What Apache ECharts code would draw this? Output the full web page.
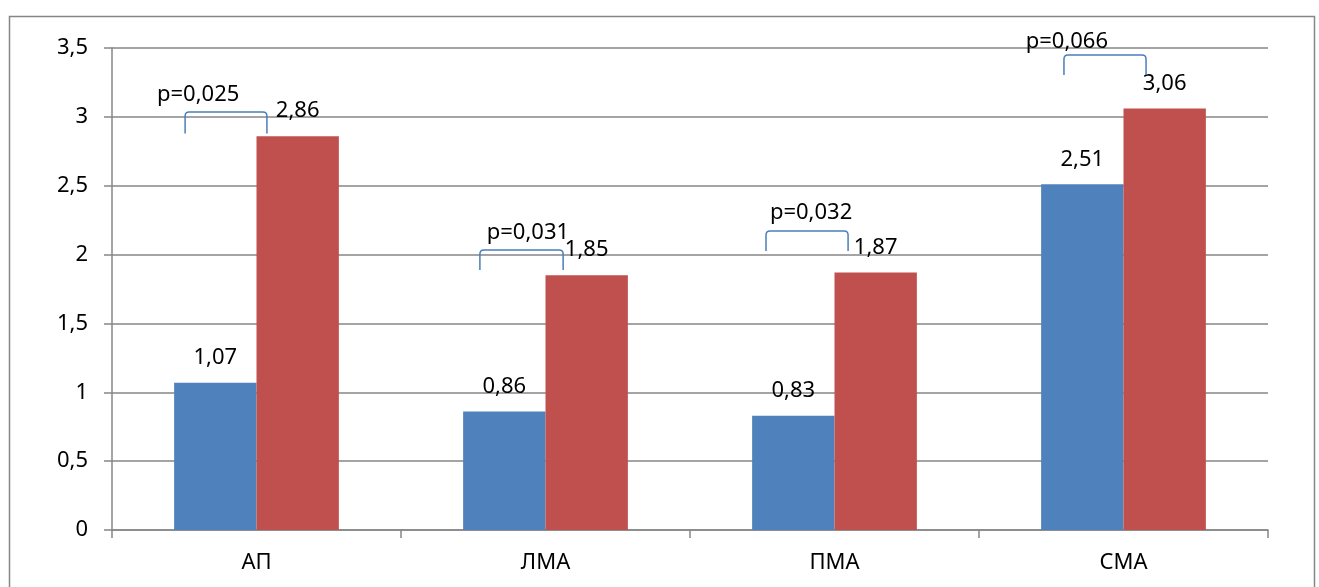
<!DOCTYPE html>
<html>
<head>
<meta charset="utf-8">
<script src="https://cdn.jsdelivr.net/npm/echarts@6/dist/echarts.min.js"></script>
<style>
html,body{margin:0;padding:0;background:#fff;}
#chart{width:1319px;height:587px;}
</style>
</head>
<body>
<div id="chart"></div>
<script>
const categories = ['АП', 'ЛМА', 'ПМА', 'СМА'];
const seriesA = [1.07, 0.86, 0.83, 2.51];
const seriesB = [2.86, 1.85, 1.87, 3.06];
const yTicks = [0, 0.5, 1, 1.5, 2, 2.5, 3, 3.5];
const pLabels = ['p=0,025', 'p=0,031', 'p=0,032', 'p=0,066'];
const bracketTop = [3.035, 2.033, 2.171, 3.449];
const bracketBottom = [2.88, 1.888, 2.026, 3.304];

const FONT = 'Noto Sans';
const GRID_COLOR = '#868686';
const fmt = v => String(v).replace('.', ',');

// annotation layout (fractions of category band relative to its centre)
const bracketLeft = [-0.247, -0.227, -0.237, -0.206];
const bracketRight = [0.036, 0.061, 0.047, 0.078];
const textX = [-0.202, -0.061, -0.081, -0.196];
const textDy = [-17, -17, -18, -13];

const chart = echarts.init(document.getElementById('chart'), null, {renderer: 'canvas'});

const bracketData = categories.map((c, i) => [i, bracketTop[i], bracketBottom[i]]);

chart.setOption({
  animation: false,
  backgroundColor: '#fff',
  textStyle: {fontFamily: FONT},
  graphic: [{
    type: 'rect',
    left: 7, top: 14,
    shape: {x: 0, y: 0, width: 1305, height: 620},
    style: {fill: 'none', stroke: GRID_COLOR, lineWidth: 1.5},
    silent: true, z: -10
  }],
  grid: {left: 112, right: 51, top: 48, bottom: 57, containLabel: false},
  xAxis: {
    type: 'category',
    data: categories,
    axisLine: {show: true, lineStyle: {color: GRID_COLOR, width: 1.5}},
    axisTick: {show: true, length: 8, alignWithLabel: false, lineStyle: {color: GRID_COLOR, width: 1.5}},
    axisLabel: {color: '#000', fontSize: 22, fontFamily: FONT, margin: 22},
    splitLine: {show: false}
  },
  yAxis: {
    type: 'value',
    min: yTicks[0],
    max: yTicks[yTicks.length - 1],
    interval: 0.5,
    axisLine: {show: true, lineStyle: {color: GRID_COLOR, width: 1.5}},
    axisTick: {show: true, length: 8, lineStyle: {color: GRID_COLOR, width: 1.5}},
    axisLabel: {color: '#000', fontSize: 22, fontFamily: FONT, margin: 24, formatter: v => fmt(v)},
    splitLine: {show: true, lineStyle: {color: GRID_COLOR, width: 1.5}}
  },
  series: [
    {
      type: 'bar',
      data: seriesA,
      barGap: '0%',
      barCategoryGap: '43%',
      itemStyle: {color: '#4F81BD'},
      label: {show: true, position: 'top', distance: 14, color: '#000', fontSize: 22, fontFamily: FONT, formatter: p => fmt(p.value)}
    },
    {
      type: 'bar',
      data: seriesB,
      barGap: '0%',
      barCategoryGap: '43%',
      itemStyle: {color: '#C0504D'},
      label: {show: true, position: 'top', distance: 14, color: '#000', fontSize: 22, fontFamily: FONT, formatter: p => fmt(p.value)}
    },
    {
      type: 'custom',
      data: bracketData,
      silent: true,
      z: 10,
      renderItem: function (params, api) {
        const i = api.value(0);
        const top = api.coord([i, api.value(1)]);
        const bot = api.coord([i, api.value(2)]);
        const band = api.size([1, 0])[0];
        const cx = top[0];
        const xl = cx + bracketLeft[i] * band;
        const xr = cx + bracketRight[i] * band;
        const yt = top[1], yb = bot[1];
        const r = 4;
        const path = `M${xl} ${yb} L${xl} ${yt + r} Q${xl} ${yt} ${xl + r} ${yt} L${xr - r} ${yt} Q${xr} ${yt} ${xr} ${yt + r} L${xr} ${yb}`;
        return {
          type: 'group',
          children: [
            {type: 'path', shape: {pathData: path}, style: {fill: 'none', stroke: '#4A7EBB', lineWidth: 1.5}},
            {type: 'text', style: {text: pLabels[i], x: cx + textX[i] * band, y: yt + textDy[i], align: 'center', verticalAlign: 'middle', fill: '#000', font: '22px "' + FONT + '"'}}
          ]
        };
      }
    }
  ]
});
</script>
</body>
</html>
